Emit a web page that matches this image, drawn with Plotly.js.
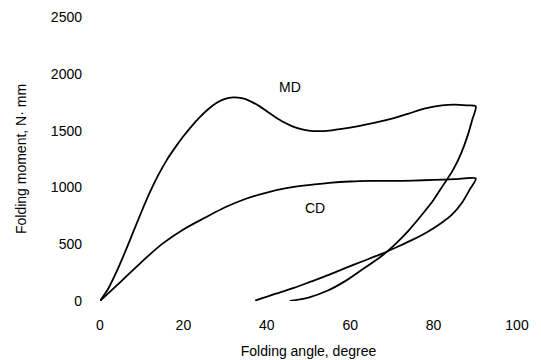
<!DOCTYPE html>
<html>
<head>
<meta charset="utf-8">
<script src="https://cdn.plot.ly/plotly-3.0.1.min.js"></script>
<style>html,body{margin:0;padding:0;background:#fff;}#chart{width:541px;height:360px;}</style>
</head>
<body>
<div id="chart"></div>
<script>
// MD curve: loading then unloading
var mdAngle = [0, 2, 4, 6, 8, 10, 12, 14, 16, 18, 20, 22, 24, 26, 28, 30, 32, 34, 36, 38, 40, 42, 44, 46, 48, 50, 52.5, 55, 58, 62, 66, 70, 74, 78, 82, 85, 88, 90.1,
               89.3, 88.2, 86.6, 84.6, 82.3, 79.8, 77, 74, 70.5, 67, 63, 58.8, 54.5, 50, 45.5];
var mdMoment = [0, 110, 260, 430, 610, 790, 960, 1110, 1240, 1350, 1450, 1540, 1620, 1690, 1745, 1780, 1792, 1785, 1760, 1720, 1670, 1620, 1575, 1540, 1515, 1500, 1495, 1500, 1515, 1540, 1570, 1605, 1650, 1695, 1722, 1728, 1722, 1714,
                1600, 1460, 1300, 1150, 1020, 880, 750, 620, 490, 380, 280, 175, 90, 30, 0];
// CD curve: loading then unloading
var cdAngle = [0, 5, 10, 15, 20, 25, 30, 35, 40, 45, 50, 55, 60, 65, 70, 75, 80, 85, 90.1,
               88.8, 86.8, 84.4, 81.6, 78.4, 75, 71.5, 67.5, 63, 58.8, 54.5, 50.5, 46.5, 42.2, 37.2];
var cdMoment = [0, 170, 345, 505, 630, 730, 825, 900, 955, 995, 1020, 1040, 1052, 1057, 1057, 1060, 1066, 1072, 1078,
                990, 865, 760, 680, 605, 540, 480, 415, 350, 290, 225, 170, 115, 65, 3];

var xTicks = [0, 20, 40, 60, 80, 100];
var yTicks = [0, 500, 1000, 1500, 2000, 2500];
var curveLabels = [{text: "MD", x: 45.6, y: 1886}, {text: "CD", x: 51.5, y: 815}];

var fnt = {family: "Liberation Sans, Arial, sans-serif", size: 14, color: "#000"};
var lineStyle = {color: "#000", width: 1.8, shape: "spline", smoothing: 0.8};

var traces = [
  {x: mdAngle, y: mdMoment, mode: "lines", line: lineStyle, name: "MD", hoverinfo: "x+y"},
  {x: cdAngle, y: cdMoment, mode: "lines", line: lineStyle, name: "CD", hoverinfo: "x+y"}
];

var layout = {
  width: 541, height: 360,
  margin: {l: 100, r: 24, t: 17, b: 59},
  paper_bgcolor: "#fff", plot_bgcolor: "#fff",
  showlegend: false,
  font: fnt,
  xaxis: {
    range: [0, 100], tickvals: xTicks, ticktext: xTicks.map(String),
    showline: false, showgrid: false, zeroline: false, ticks: "",
    ticklabelstandoff: 14, tickfont: fnt,
    title: {text: "Folding angle, degree", font: fnt, standoff: 14},
    automargin: false
  },
  yaxis: {
    range: [0, 2500], tickvals: yTicks, ticktext: yTicks.map(String),
    showline: false, showgrid: false, zeroline: false, ticks: "",
    ticklabelstandoff: 17, tickfont: fnt,
    title: {text: "Folding moment, N· mm", font: fnt, standoff: 20},
    automargin: false
  },
  annotations: curveLabels.map(function (c) {
    return {text: c.text, x: c.x, y: c.y, xref: "x", yref: "y", showarrow: false, font: fnt};
  })
};

Plotly.newPlot("chart", traces, layout, {displayModeBar: false, staticPlot: true});
</script>
</body>
</html>
